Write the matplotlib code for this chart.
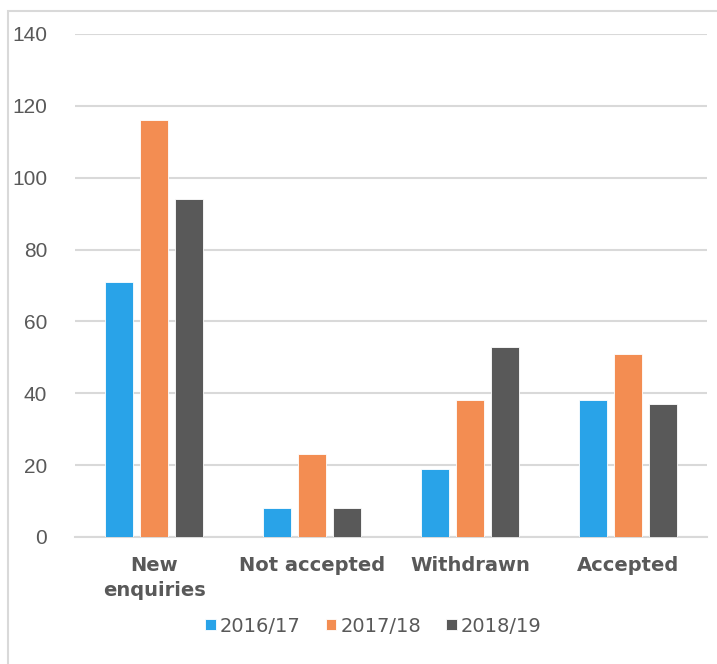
import matplotlib.pyplot as plt
import numpy as np
from matplotlib.patches import Rectangle

categories = ["New\nenquiries", "Not accepted", "Withdrawn", "Accepted"]
years = ["2016/17", "2017/18", "2018/19"]
vals_1617 = [71, 8, 19, 38]
vals_1718 = [116, 23, 38, 51]
vals_1819 = [94, 8, 53, 37]

colors = ["#29A3E8", "#F38D52", "#595959"]
text_col = "#595959"
grid_col = "#D9D9D9"

fig = plt.figure(figsize=(7.17, 6.64), dpi=100)
ax = fig.add_axes([0.1046, 0.1913, 0.8815, 0.7575])

x = np.arange(len(categories))
width = 0.175
step = 0.22
series = [vals_1617, vals_1718, vals_1819]
for i, (vals, col, lab) in enumerate(zip(series, colors, years)):
    ax.bar(x + (i - 1) * step, vals, width, color=col, label=lab,
           edgecolor="white", linewidth=0.6, zorder=3)

ax.set_xlim(-0.5, len(categories) - 0.5)
ax.set_ylim(0, 140)
ax.set_yticks(range(0, 141, 20))
ax.yaxis.grid(True, color=grid_col, linewidth=1.5, zorder=0)
ax.set_axisbelow(True)
for s in ["top", "right", "left"]:
    ax.spines[s].set_visible(False)
ax.spines["bottom"].set_color(grid_col)
ax.spines["bottom"].set_linewidth(1.5)

ax.tick_params(axis="y", length=0, pad=20, labelsize=15, labelcolor=text_col)
ax.tick_params(axis="x", length=0, pad=14)
for lbl in ax.get_yticklabels():
    lbl.set_family("Liberation Sans")
ax.set_xticks(x)
ax.set_xticklabels(categories, fontsize=14, fontweight="bold", color=text_col,
                   family="DejaVu Sans", linespacing=1.4)

leg = ax.legend(loc="center", bbox_to_anchor=(0.472, -0.177), ncol=3, frameon=False,
                prop={"family": "DejaVu Sans", "size": 14},
                handlelength=0.55, handleheight=0.55, handletextpad=0.2,
                columnspacing=1.3)
for t in leg.get_texts():
    t.set_color(text_col)

# chart area border (top and left edges visible)
fig.add_artist(Rectangle((8 / 717, -0.5), 2, 0.5 + 1 - 10.5 / 664,
                         transform=fig.transFigure, fill=False,
                         edgecolor=grid_col, linewidth=1.5))

fig.savefig("out.png", dpi=100)
